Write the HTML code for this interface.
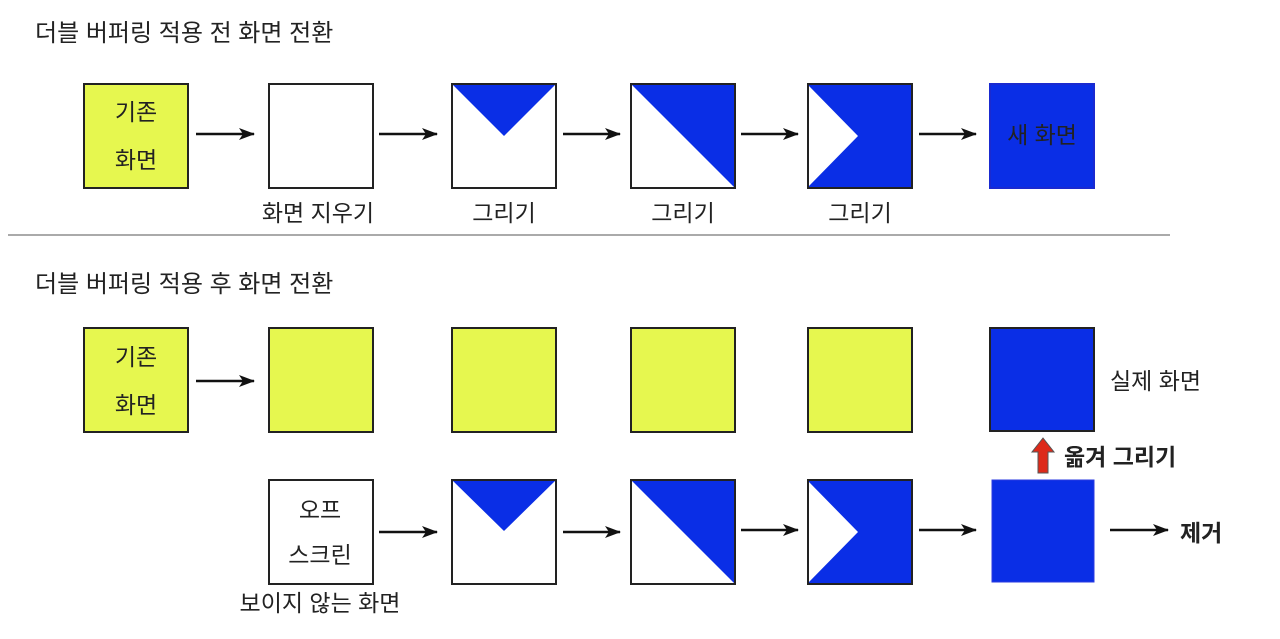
<!DOCTYPE html>
<html><head><meta charset="utf-8"><style>
html,body{margin:0;padding:0;background:#fff;width:1280px;height:639px;overflow:hidden}
svg text{font-family:"Liberation Sans","Noto Sans CJK KR",sans-serif;fill:#222}
</style></head><body>
<svg width="1280" height="639" xmlns="http://www.w3.org/2000/svg">
<defs><marker id="ah" markerWidth="16" markerHeight="14" refX="15" refY="7" orient="auto" markerUnits="userSpaceOnUse"><path d="M0,1 L16,7 L0,13 L4,7Z" fill="#111"/></marker></defs>
<g font-size="24">
<text x="35" y="41">더블 버퍼링 적용 전 화면 전환</text>
<text x="35" y="292">더블 버퍼링 적용 후 화면 전환</text>
</g>
<line x1="8" y1="235" x2="1170" y2="235" stroke="#aaa" stroke-width="2"/>
<g stroke="#222" stroke-width="2">
<rect x="84" y="84" width="104" height="104" fill="#e6f74f"/>
<rect x="269" y="84" width="104" height="104" fill="#fff"/>
<rect x="452" y="84" width="104" height="104" fill="#fff"/>
<rect x="631" y="84" width="104" height="104" fill="#fff"/>
<rect x="808" y="84" width="104" height="104" fill="#0a2ee6"/>
<rect x="990" y="84" width="104" height="104" fill="#0a2ee6" stroke="#1a2ad0"/>
<rect x="84" y="328" width="104" height="104" fill="#e6f74f"/>
<rect x="269" y="328" width="104" height="104" fill="#e6f74f"/>
<rect x="452" y="328" width="104" height="104" fill="#e6f74f"/>
<rect x="631" y="328" width="104" height="104" fill="#e6f74f"/>
<rect x="808" y="328" width="104" height="104" fill="#e6f74f"/>
<rect x="990" y="328" width="104" height="103" fill="#0a2ee6"/>
<rect x="269" y="480" width="104" height="104" fill="#fff"/>
<rect x="452" y="480" width="104" height="104" fill="#fff"/>
<rect x="631" y="480" width="104" height="104" fill="#fff"/>
<rect x="808" y="480" width="104" height="104" fill="#0a2ee6"/>
<rect x="992" y="480" width="102" height="102" fill="#0a2ee6" stroke="#2a3ae0" stroke-width="1"/>
</g>
<g fill="#0a2ee6">
<path d="M453,85 L555,85 L504,136Z"/>
<path d="M632,85 L734,85 L734,187Z"/>
<path d="M453,481 L555,481 L504,531Z"/>
<path d="M632,481 L734,481 L734,583Z"/>
</g>
<g fill="#fff">
<path d="M809,86 L858,136 L809,186Z"/>
<path d="M809,482 L858,532 L809,582Z"/>
</g>
<g stroke="#111" stroke-width="2.5" marker-end="url(#ah)">
<line x1="196" y1="134" x2="254" y2="134"/>
<line x1="379" y1="134" x2="437" y2="134"/>
<line x1="563" y1="134" x2="620" y2="134"/>
<line x1="741" y1="134" x2="798" y2="134"/>
<line x1="919" y1="134" x2="976" y2="134"/>
<line x1="196" y1="381" x2="254" y2="381"/>
<line x1="379" y1="532" x2="437" y2="532"/>
<line x1="563" y1="532" x2="620" y2="532"/>
<line x1="741" y1="530" x2="798" y2="530"/>
<line x1="919" y1="530" x2="976" y2="530"/>
<line x1="1110" y1="530" x2="1168" y2="530"/>
</g>
<path d="M1043,438 L1054,452 L1048,452 L1048,473 L1038,473 L1038,452 L1032,452Z" fill="#dd2a1a" stroke="#555" stroke-width="1"/>
<g font-size="23" text-anchor="middle">
<text x="136" y="120">기존</text><text x="136" y="168">화면</text>
<text x="136" y="365">기존</text><text x="136" y="413">화면</text>
<text x="1042" y="143" fill="#222">새 화면</text>
<text x="318" y="221">화면 지우기</text>
<text x="504" y="221">그리기</text>
<text x="683" y="221">그리기</text>
<text x="860" y="221">그리기</text>
<text x="320" y="518">오프</text>
<text x="320" y="563">스크린</text>
<text x="320" y="611">보이지 않는 화면</text>
</g>
<g font-size="23">
<text x="1110" y="389">실제 화면</text>
<text x="1064" y="465" font-weight="bold">옮겨 그리기</text>
<text x="1180" y="541" font-weight="bold">제거</text>
</g>
</svg>
</body></html>
